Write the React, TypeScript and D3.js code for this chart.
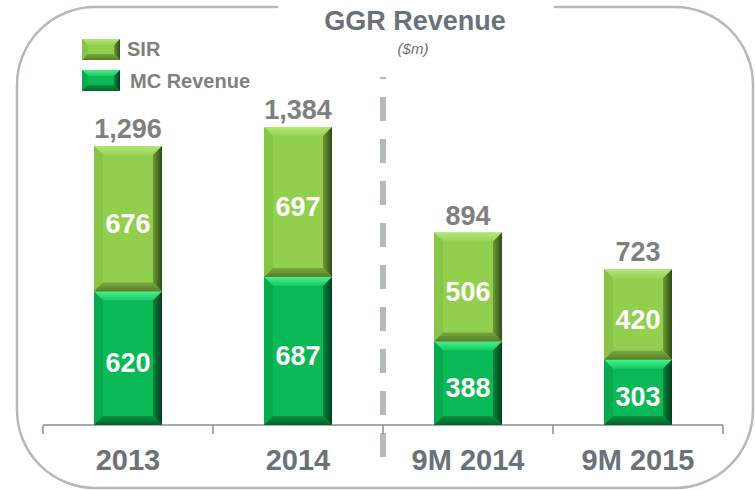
import React from "react";
import * as d3 from "d3";

const categories = ["2013", "2014", "9M 2014", "9M 2015"];
const sirValues = [676, 697, 506, 420];
const mcValues = [620, 687, 388, 303];
const seriesNames = ["SIR", "MC Revenue"];
const title = "GGR Revenue";
const subtitle = "($m)";

const FONT = "Arial, 'Liberation Sans', Helvetica, sans-serif";

type Pal = { face: string; topA: string; topB: string; left: string; rightA: string; rightB: string; botA: string; botB: string };
const SIR_PAL: Pal = {
  face: "#92cf4e", topA: "#b4e67a", topB: "#97d354", left: "#88c446",
  rightA: "#6c9c36", rightB: "#2f4a14", botA: "#78a83e", botB: "#557f2a",
};
const MC_PAL: Pal = {
  face: "#08b955", topA: "#45f28d", topB: "#14c862", left: "#07aa4d",
  rightA: "#06853e", rightB: "#033d1c", botA: "#07923f", botB: "#04632c",
};

function Bevel({ x, y, w, h, b, pal, id }: { x: number; y: number; w: number; h: number; b: number; pal: Pal; id: string }) {
  const x2 = x + w, y2 = y + h;
  return (
    <g>
      <defs>
        <linearGradient id={id + "t"} x1="0" y1="0" x2="0" y2="1">
          <stop offset="0" stopColor={pal.topA} />
          <stop offset="1" stopColor={pal.topB} />
        </linearGradient>
        <linearGradient id={id + "r"} x1="0" y1="0" x2="1" y2="0">
          <stop offset="0" stopColor={pal.rightA} />
          <stop offset="1" stopColor={pal.rightB} />
        </linearGradient>
        <linearGradient id={id + "b"} x1="0" y1="0" x2="0" y2="1">
          <stop offset="0" stopColor={pal.botA} />
          <stop offset="1" stopColor={pal.botB} />
        </linearGradient>
      </defs>
      <rect x={x} y={y} width={w} height={h} fill={pal.face} />
      <path d={`M${x},${y}L${x2},${y}L${x2 - b},${y + b}L${x + b},${y + b}Z`} fill={`url(#${id}t)`} />
      <path d={`M${x},${y}L${x + b},${y + b}L${x + b},${y2 - b}L${x},${y2}Z`} fill={pal.left} />
      <path d={`M${x2},${y}L${x2},${y2}L${x2 - b},${y2 - b}L${x2 - b},${y + b}Z`} fill={`url(#${id}r)`} />
      <path d={`M${x},${y2}L${x2},${y2}L${x2 - b},${y2 - b}L${x + b},${y2 - b}Z`} fill={`url(#${id}b)`} />
    </g>
  );
}

export default function App() {
  const W = 755, H = 490;
  const x = d3.scaleBand<string>().domain(categories).range([43, 723]).paddingInner(0.6).paddingOuter(0.3);
  const y = d3.scaleLinear().domain([0, 1384]).range([425, 127]);
  const bw = x.bandwidth();
  const step = x.step();
  const fmt = d3.format(",");
  const baseY = y(0);

  const boundaries = categories.map((c) => (x(c) as number) + bw / 2 - step / 2);
  boundaries.push((x(categories[categories.length - 1]) as number) + bw / 2 + step / 2);

  const L = 17, R = 753, T = 7, B = 488, r = 78;
  const framePath =
    `M278,${T}L${L + r},${T}A${r},${r} 0 0 0 ${L},${T + r}L${L},${B - r}A${r},${r} 0 0 0 ${L + r},${B}` +
    `L${R - r},${B}A${r},${r} 0 0 0 ${R},${B - r}L${R},${T + r}A${r},${r} 0 0 0 ${R - r},${T}L554,${T}`;

  return (
    <svg width={W} height={H} style={{ position: "absolute", left: 0, top: 0, background: "#fff" }} fontFamily={FONT}>
      <path d={framePath} fill="none" stroke="#b3b9c0" strokeWidth={2.5} />
      <text x={415} y={30} textAnchor="middle" fontSize={27} fontWeight="bold" fill="#6b7179">{title}</text>
      <text x={413} y={54} textAnchor="middle" fontSize={15} fontStyle="italic" fill="#6b7179">{subtitle}</text>

      {/* legend */}
      <Bevel x={82} y={39} w={38} h={21} b={6} pal={SIR_PAL} id="lg0" />
      <text x={127} y={56} fontSize={20} fontWeight="bold" fill="#7f7f7f">{seriesNames[0]}</text>
      <Bevel x={82} y={70} w={38} h={21} b={6} pal={MC_PAL} id="lg1" />
      <text x={130} y={88} fontSize={20} fontWeight="bold" fill="#7f7f7f">{seriesNames[1]}</text>

      {/* divider */}
      <line x1={383} x2={383} y1={77} y2={457} stroke="#b5bac0" strokeWidth={6} strokeDasharray="24 18" strokeDashoffset={22} />

      {/* axis */}
      <line x1={boundaries[0]} x2={boundaries[boundaries.length - 1]} y1={baseY} y2={baseY} stroke="#8c8c8c" strokeWidth={1.5} />
      {boundaries.map((bx, i) => (
        <line key={i} x1={bx} x2={bx} y1={baseY} y2={baseY + 9} stroke="#8c8c8c" strokeWidth={1.5} />
      ))}

      {categories.map((c, i) => {
        const bx = x(c) as number;
        const cx = bx + bw / 2;
        const mcTop = y(mcValues[i]);
        const total = mcValues[i] + sirValues[i];
        const sirTop = y(total);
        return (
          <g key={c}>
            <Bevel x={bx} y={mcTop} w={bw} h={baseY - mcTop} b={9} pal={MC_PAL} id={`mc${i}`} />
            <Bevel x={bx} y={sirTop} w={bw} h={mcTop - sirTop} b={9} pal={SIR_PAL} id={`sir${i}`} />
            <text x={cx} y={(mcTop + baseY) / 2 + 14} textAnchor="middle" fontSize={27} fontWeight="bold" fill="#ffffff">{mcValues[i]}</text>
            <text x={cx} y={(sirTop + mcTop) / 2 + 14} textAnchor="middle" fontSize={27} fontWeight="bold" fill="#ffffff">{sirValues[i]}</text>
            <text x={cx} y={sirTop - 8} textAnchor="middle" fontSize={27} fontWeight="bold" fill="#7f7f7f">{fmt(total)}</text>
            <text x={cx} y={470} textAnchor="middle" fontSize={29} fontWeight="bold" fill="#6b7179">{c}</text>
          </g>
        );
      })}
    </svg>
  );
}
